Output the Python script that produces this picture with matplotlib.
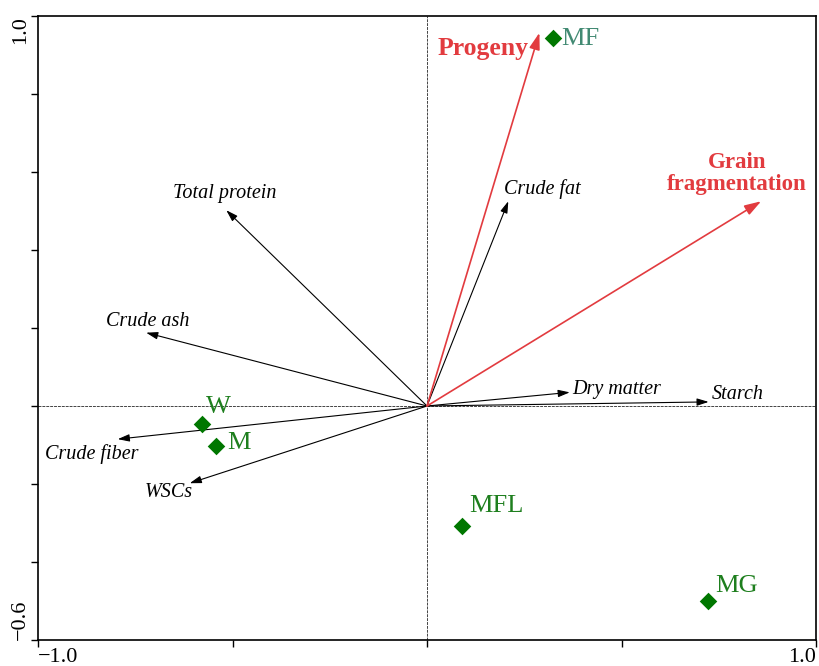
import matplotlib
matplotlib.use("Agg")
import matplotlib.pyplot as plt

plt.rcParams['font.family'] = ['Liberation Serif', 'DejaVu Serif']
plt.rcParams['axes.unicode_minus'] = True

# Quality variables (response arrows)
feature_names = ["Total protein", "Crude fat", "Crude ash", "Crude fiber",
                 "WSCs", "Dry matter", "Starch"]
feature_x = [-0.516, 0.209, -0.722, -0.795, -0.610, 0.367, 0.724]
feature_y = [0.502, 0.525, 0.188, -0.085, -0.198, 0.035, 0.0105]

# Explanatory variables (red arrows)
env_names = ["Progeny", "Grain\nfragmentation"]
env_x = [0.289, 0.859]
env_y = [0.957, 0.525]

# Samples
sample_names = ["W", "M", "MF", "MFL", "MG"]
sample_x = [-0.579, -0.543, 0.323, 0.091, 0.723]
sample_y = [-0.046, -0.102, 0.944, -0.307, -0.500]

# Label offsets (points) relative to arrow tips / markers
feature_offsets = {
    "Total protein": ((-1, 12), "center"),
    "Crude fat": ((-3, 9), "left"),
    "Crude ash": ((1, 8), "center"),
    "Crude fiber": ((-19, -11), "center"),
    "WSCs": ((-15, -7), "center"),
    "Dry matter": ((2, 2), "left"),
    "Starch": ((2, 5), "left"),
}
env_offsets = {
    "Progeny": ((-8, -11), "right"),
    "Grain\nfragmentation": ((-17.5, 20), "center"),
}
sample_offsets = {
    "W": (3, 12), "M": (8, 2), "MF": (6, -1), "MFL": (5, 14), "MG": (5, 11),
}

RED = "#e23b3f"
GREEN = "#007700"
LABEL_GREEN = "#1e7f1e"
MF_GREEN = "#428a73"

fig = plt.figure(figsize=(8.19, 6.66), dpi=100)
ax = fig.add_axes([38 / 819, 26 / 666, 778 / 819, 624 / 666])
ax.set_xlim(-1.0, 1.0)
ax.set_ylim(-0.6, 1.0)

# Origin cross-hairs
ax.axhline(0, color="#444444", lw=0.7, ls=(0, (3, 1)), zorder=1)
ax.axvline(0, color="#444444", lw=0.7, ls=(0, (3, 1)), zorder=1)

# Black arrows for quality variables
for name, x, y in zip(feature_names, feature_x, feature_y):
    ax.annotate("", xy=(x, y), xytext=(0, 0),
                arrowprops=dict(arrowstyle="-|>,head_length=0.7,head_width=0.22",
                                lw=0.8, color="black", shrinkA=0, shrinkB=0,
                                mutation_scale=10), zorder=3)
    (dx, dy), ha = feature_offsets[name]
    ax.annotate(name, xy=(x, y), xytext=(dx, dy), textcoords="offset points",
                ha=ha, va="center", fontsize=14.5, style="italic", color="black",
                zorder=5)

# Red arrows for explanatory variables
for name, x, y in zip(env_names, env_x, env_y):
    ax.annotate("", xy=(x, y), xytext=(0, 0),
                arrowprops=dict(arrowstyle="-|>,head_length=1.0,head_width=0.32",
                                lw=1.2, color=RED, shrinkA=0, shrinkB=0,
                                mutation_scale=10), zorder=4)
    (dx, dy), ha = env_offsets[name]
    size = 18.5 if name == "Progeny" else 16.5
    ax.annotate(name, xy=(x, y), xytext=(dx, dy), textcoords="offset points",
                ha=ha, va="center", multialignment="center", linespacing=1.1,
                fontsize=size, fontweight="bold", color=RED, zorder=5)

# Sample points
ax.scatter(sample_x, sample_y, marker="D", s=80, color=GREEN, zorder=6,
           linewidths=0)
for name, x, y in zip(sample_names, sample_x, sample_y):
    dx, dy = sample_offsets[name]
    ax.annotate(name, xy=(x, y), xytext=(dx, dy), textcoords="offset points",
                ha="left", va="center", fontsize=19,
                color=MF_GREEN if name == "MF" else LABEL_GREEN, zorder=7)

# Axes frame and ticks
for sp in ax.spines.values():
    sp.set_linewidth(1.2)
ax.set_xticks([-1.0, -0.5, 0.0, 0.5, 1.0])
ax.set_xticklabels(["\u22121.0", "", "", "", "1.0"])
ax.set_yticks([-0.6, -0.4, -0.2, 0.0, 0.2, 0.4, 0.6, 0.8, 1.0])
ax.set_yticklabels(["\u22120.6", "", "", "", "", "", "", "", "1.0"])
ax.tick_params(direction="out", length=5, width=1.0, labelsize=16, pad=1)

xl = ax.get_xticklabels()
xl[0].set_ha("left")
xl[-1].set_ha("right")
yl = ax.get_yticklabels()
for lab in yl:
    lab.set_rotation(90)
yl[0].set_va("bottom")
yl[-1].set_va("top")

fig.savefig("out.png", dpi=100)
